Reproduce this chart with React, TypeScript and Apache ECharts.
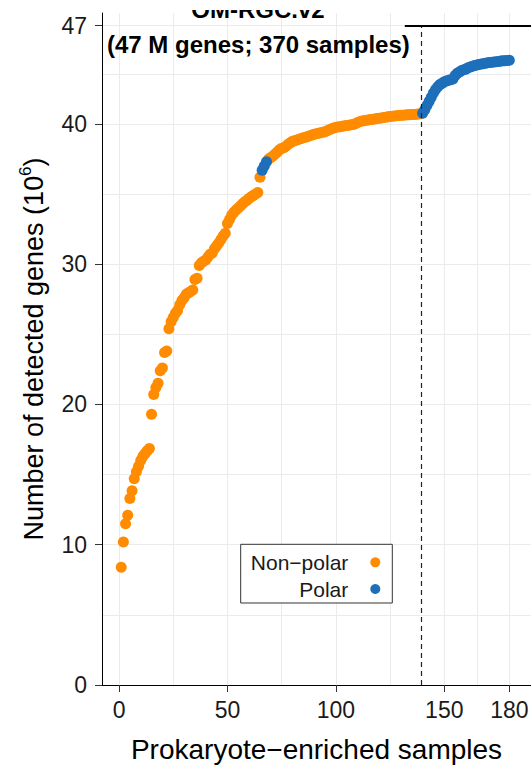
import React, { useEffect, useRef } from "react";
import * as echarts from "echarts";

// Cumulative number of detected genes (10^6) for samples 1..180
const genes: number[] = [
  8.4, 10.2, 11.5, 12.1, 13.3, 13.85, 14.7, 15.2, 15.6, 16.0,
  16.3, 16.5, 16.7, 16.85, 19.3, 20.7, 21.2, 21.5, 22.4, 22.6,
  23.7, 23.8, 25.4, 25.9, 26.2, 26.5, 26.7, 27.1, 27.4, 27.6,
  27.85, 27.95, 28.05, 28.15, 28.9, 29.0, 29.9, 30.1, 30.2, 30.3,
  30.5, 30.7, 30.8, 31.1, 31.3, 31.5, 31.75, 32.0, 32.2, 32.9,
  33.2, 33.5, 33.7, 33.85, 34.0, 34.15, 34.3, 34.45, 34.55, 34.7,
  34.8, 34.9, 35.0, 35.1, 36.2, 36.7, 37.0, 37.3, 37.5, 37.6,
  37.7, 37.85, 38.0, 38.15, 38.25, 38.3, 38.4, 38.55, 38.65, 38.75,
  38.8, 38.85, 38.9, 38.95, 39.0, 39.05, 39.1, 39.15, 39.2, 39.25,
  39.3, 39.33, 39.36, 39.4, 39.43, 39.5, 39.58, 39.65, 39.7, 39.75,
  39.78, 39.8, 39.83, 39.86, 39.88, 39.9, 39.93, 39.96, 40.0, 40.1,
  40.15, 40.2, 40.22, 40.25, 40.28, 40.3, 40.32, 40.35, 40.38, 40.4,
  40.42, 40.45, 40.47, 40.5, 40.52, 40.54, 40.56, 40.58, 40.6, 40.61,
  40.62, 40.63, 40.64, 40.65, 40.66, 40.67, 40.68, 40.7, 40.71, 40.75,
  41.0, 41.3, 41.6, 41.9, 42.2, 42.45, 42.65, 42.8, 42.9, 43.0,
  43.05, 43.1, 43.15, 43.2, 43.45, 43.6, 43.7, 43.8, 43.85, 43.9,
  44.0, 44.05, 44.1, 44.15, 44.2, 44.23, 44.26, 44.29, 44.32, 44.35,
  44.37, 44.39, 44.41, 44.43, 44.45, 44.47, 44.49, 44.5, 44.52, 44.53,
];

// Sample ranks that are polar
const polarSamples: number[] = [
  66, 67, 68,
  140, 141, 142, 143, 144, 145, 146, 147, 148, 149, 150,
  151, 152, 153, 154, 155, 156, 157, 158, 159, 160,
  161, 162, 163, 164, 165, 166, 167, 168, 169, 170,
  171, 172, 173, 174, 175, 176, 177, 178, 179, 180,
];

const xTickLabels: number[] = [0, 50, 100, 150, 180];
const yTickLabels: number[] = [0, 10, 20, 30, 40, 47];
const xGridValues: number[] = [0, 25, 50, 75, 100, 125, 150, 165, 180];
const yGridValues: number[] = [5, 10, 15, 20, 25, 30, 35, 40, 43.5, 47];
const splitSample = 139.5;
const totalGenes = 47;
const bracketStart = 131.8;

const seriesNames = ["Non\u2212polar", "Polar"];
const FONT = "'Liberation Sans', Arial, sans-serif";

export default function App() {
  const ref = useRef<HTMLDivElement>(null);

  useEffect(() => {
    if (!ref.current) return;
    const chart = echarts.init(ref.current, null, { renderer: "svg" });

    const polarSet = new Set(polarSamples);
    const nonPolarData: number[][] = [];
    const polarData: number[][] = [];
    genes.forEach((g, i) => {
      const s = i + 1;
      if (polarSet.has(s)) polarData.push([s, g]);
      else nonPolarData.push([s, g]);
    });

    const xMin = -7.86;
    const xMax = 190;

    chart.setOption({
      animation: false,
      backgroundColor: "#ffffff",
      textStyle: { fontFamily: FONT },
      grid: {
        left: 102,
        right: 0,
        top: 13,
        bottom: 80,
        containLabel: false,
        outerBoundsMode: "none",
      },
      legend: {
        data: seriesNames,
        orient: "vertical",
        left: 240.7,
        top: 544.3,
        align: "right",
        icon: "circle",
        itemWidth: 10,
        itemHeight: 10,
        itemGap: 4.7,
        padding: [7, 12, 3, 7.6],
        borderColor: "#333333",
        borderWidth: 1,
        backgroundColor: "#ffffff",
        z: 10,
        textStyle: {
          fontSize: 21,
          fontFamily: FONT,
          color: "#1a1a1a",
          width: 100,
          lineHeight: 22,
          padding: [0, 17, 0, 0],
        },
      },
      xAxis: {
        type: "value",
        min: xMin,
        max: xMax,
        name: "Prokaryote\u2212enriched samples",
        nameLocation: "middle",
        nameGap: 49,
        nameTextStyle: { fontSize: 28, lineHeight: 30, color: "#000", fontFamily: FONT },
        axisLine: { show: true, onZero: false, lineStyle: { color: "#000", width: 1 } },
        axisTick: {
          show: true,
          length: 7,
          customValues: xTickLabels,
          lineStyle: { color: "#333" },
        },
        axisLabel: {
          customValues: xTickLabels,
          fontSize: 23,
          color: "#1a1a1a",
          margin: 13,
          fontFamily: FONT,
        },
        splitLine: { show: false },
      },
      yAxis: {
        type: "value",
        min: 0,
        max: 47.9,
        name: "Number of detected genes (10{sup|6})",
        nameLocation: "middle",
        nameGap: 51,
        nameTextStyle: {
          fontSize: 27,
          color: "#000",
          fontFamily: FONT,
          lineHeight: 34,
          rich: {
            sup: { fontSize: 17, verticalAlign: "top", lineHeight: 18, fontFamily: FONT, color: "#000" },
          },
        },
        axisLine: { show: true, onZero: false, lineStyle: { color: "#000", width: 1 } },
        axisTick: {
          show: true,
          length: 7,
          customValues: yTickLabels,
          lineStyle: { color: "#333" },
        },
        axisLabel: {
          customValues: yTickLabels,
          fontSize: 23,
          color: "#1a1a1a",
          margin: 15,
          fontFamily: FONT,
        },
        splitLine: { show: false },
      },
      graphic: [
        {
          type: "text",
          x: 258,
          y: 9,
          z: 20,
          style: {
            text: "OM-RGC.v2",
            font: `bold 24px ${FONT}`,
            fill: "#000",
            textAlign: "center",
            textVerticalAlign: "middle",
          },
        },
        {
          type: "rect",
          z: 21,
          shape: { x: 150, y: 0, width: 230, height: 10 },
          style: { fill: "#ffffff" },
        },
        {
          type: "text",
          x: 107,
          y: 44,
          z: 20,
          style: {
            text: "(47 M genes; 370 samples)",
            font: `bold 24px ${FONT}`,
            fill: "#000",
            textAlign: "left",
            textVerticalAlign: "middle",
          },
        },
      ],
      series: [
        {
          type: "line",
          name: "grid",
          data: [],
          z: 0,
          silent: true,
          markLine: {
            silent: true,
            symbol: "none",
            z: 0,
            label: { show: false },
            lineStyle: { color: "#EBEBEB", width: 1, type: "solid" },
            data: [
              ...xGridValues.map((v) => ({ xAxis: v })),
              ...yGridValues.map((v) => ({ yAxis: v })),
            ],
          },
        },
        {
          type: "line",
          name: "annot",
          data: [],
          z: 4,
          silent: true,
          markLine: {
            silent: true,
            symbol: "none",
            z: 4,
            label: { show: false },
            data: [
              [
                { coord: [splitSample, 0], lineStyle: { color: "#222", width: 1.2, type: [5, 4] } },
                { coord: [splitSample, totalGenes] },
              ],
              [
                { coord: [bracketStart, totalGenes], lineStyle: { color: "#000", width: 2, type: "solid" } },
                { coord: [xMax, totalGenes] },
              ],
            ],
          },
        },
        {
          type: "scatter",
          name: seriesNames[0],
          data: nonPolarData,
          symbol: "circle",
          symbolSize: 11,
          z: 3,
          itemStyle: { color: "#FF8C00", opacity: 1 },
        },
        {
          type: "scatter",
          name: seriesNames[1],
          data: polarData,
          symbol: "circle",
          symbolSize: 11,
          z: 3,
          itemStyle: { color: "#1E6FBA", opacity: 1 },
        },
      ],
    });

    return () => chart.dispose();
  }, []);

  return (
    <div
      ref={ref}
      style={{ position: "absolute", left: 0, top: 0, width: 531, height: 765 }}
    />
  );
}
